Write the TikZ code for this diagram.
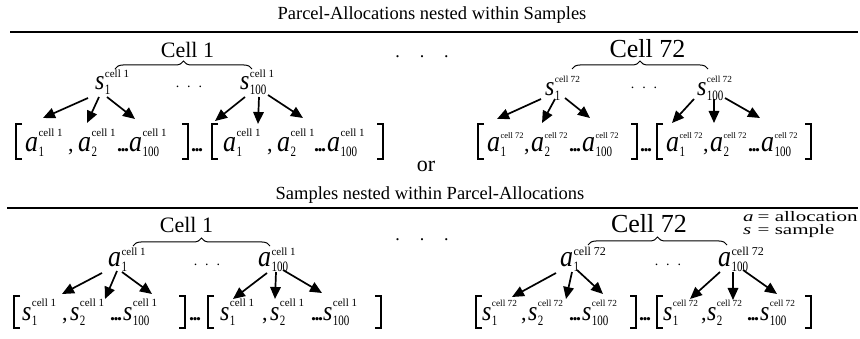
\documentclass[tikz,border=0pt]{standalone}
\usepackage{fontspec}
\setmainfont{Liberation Serif}
\usepackage{graphicx}
\usetikzlibrary{arrows.meta,decorations.pathreplacing}

\newcommand{\Lt}[1]{\scalebox{1}[1.15]{\itshape #1}}
\newcommand{\Sb}[1]{\scalebox{1}[1.3]{#1}}
\newcommand{\BD}{.\kern-1.5pt.\kern-1.5pt.}

\tikzset{
 letA/.style={anchor=base west, inner sep=0pt, font=\fontsize{26}{26}\selectfont},
 letS/.style={anchor=base west, inner sep=0pt, font=\fontsize{24}{24}\selectfont},
 subtxt/.style={anchor=base west, inner sep=0pt, font=\fontsize{11}{11}\selectfont},
 supA/.style={anchor=base west, inner sep=0pt, font=\fontsize{11}{11}\selectfont},
 supB/.style={anchor=base west, inner sep=0pt, font=\fontsize{8.5}{8.5}\selectfont},
 supC/.style={anchor=base west, inner sep=0pt, font=\fontsize{9.3}{9.3}\selectfont},
 supD/.style={anchor=base west, inner sep=0pt, font=\fontsize{12}{12}\selectfont},
 commatxt/.style={anchor=base west, inner sep=0pt, font=\fontsize{22}{22}\selectfont},
 bolddots/.style={anchor=base west, inner sep=0pt, font=\fontsize{20}{20}\selectfont\bfseries},
 ttl/.style={anchor=base, inner sep=0pt, font=\fontsize{18.5}{18.5}\selectfont},
 cellA/.style={anchor=base, inner sep=0pt, font=\fontsize{22}{22}\selectfont},
 cellB/.style={anchor=base, inner sep=0pt, font=\fontsize{26}{26}\selectfont},
 bigdots/.style={anchor=base, inner sep=0pt, font=\fontsize{18}{18}\selectfont},
 smdots/.style={anchor=base, inner sep=0pt, font=\fontsize{14}{14}\selectfont},
 legtxt/.style={anchor=base west, inner sep=0pt, font=\fontsize{14.5}{14.5}\selectfont},
 arr/.style={-{Triangle[length=12pt,width=10.5pt]}, line width=1.7pt},
 brk/.style={line width=1.1pt},
 brc/.style={decorate, decoration={brace, amplitude=8pt}, line width=1pt},
 rulel/.style={line width=1.2pt},
}

% element: name, x, y, letter style, letter, sub, sup style, sup text, sup shift
\newcommand{\El}[9]{%
 \node[#4] (#1) at (#2,#3) {\Lt{#5}};
 \node[subtxt] (#1-b) at ([yshift=-5pt]#1.base east) {\Sb{#6}};
 \node[#7] (#1-p) at ([yshift=#9pt]#1.base east) {#8};
}
\newcommand{\LB}[3]{\draw[brk] (#1+6,#2) -- (#1,#2) -- (#1,#3) -- (#1+6,#3);}
\newcommand{\RB}[3]{\draw[brk] (#1-6,#2) -- (#1,#2) -- (#1,#3) -- (#1-6,#3);}

\begin{document}
\begin{tikzpicture}[x=1pt,y=-1pt]
\useasboundingbox (0,0) rectangle (860,339);

% ================= TOP SECTION =================
\node[ttl] (title1) at (432,20) {Parcel-Allocations nested within Samples};
\coordinate (r1a) at (10,32); \coordinate (r1b) at (858,32);
\draw[rulel] (r1a) -- (r1b);

\node[cellA] (cellTL) at (187.5,58) {Cell 1};
\node[cellB] (cellTR) at (647.5,58) {Cell 72};
\coordinate (bTLa) at (115,69); \coordinate (bTLb) at (252,69);
\draw[brc] (bTLa) -- (bTLb);
\coordinate (bTRa) at (572,69); \coordinate (bTRb) at (708,69);
\draw[brc] (bTRa) -- (bTRb);
\node[bigdots] (dotsT) at (422,58) {.\hspace{20pt}.\hspace{20pt}.};
\node[smdots] (dTL) at (189,88) {.\hspace{8pt}.\hspace{8pt}.};
\node[smdots] (dTR) at (644,89) {.\hspace{8pt}.\hspace{8pt}.};

\El{sA1}{95}{90}{letS}{s}{1}{supA}{cell 1}{12}
\El{sA100}{240}{90}{letS}{s}{100}{supA}{cell 1}{12}
\El{sB1}{545}{96}{letS}{s}{1}{supC}{cell 72}{13}
\El{sB100}{697}{96}{letS}{s}{100}{supC}{cell 72}{13}

\coordinate (a1t) at (88,98);  \coordinate (a1h) at (43,118);  \draw[arr] (a1t) -- (a1h);
\coordinate (a2t) at (99,97);  \coordinate (a2h) at (87,123);  \draw[arr] (a2t) -- (a2h);
\coordinate (a3t) at (107,97); \coordinate (a3h) at (135,119); \draw[arr] (a3t) -- (a3h);
\coordinate (a4t) at (245,97); \coordinate (a4h) at (215,121); \draw[arr] (a4t) -- (a4h);
\coordinate (a5t) at (259,97); \coordinate (a5h) at (258,124); \draw[arr] (a5t) -- (a5h);
\coordinate (a6t) at (268,95); \coordinate (a6h) at (303,118); \draw[arr] (a6t) -- (a6h);
\coordinate (a7t) at (541,99); \coordinate (a7h) at (497,119); \draw[arr] (a7t) -- (a7h);
\coordinate (a8t) at (555,99); \coordinate (a8h) at (542,123); \draw[arr] (a8t) -- (a8h);
\coordinate (a9t) at (565,98); \coordinate (a9h) at (590,118); \draw[arr] (a9t) -- (a9h);
\coordinate (a10t) at (694,99); \coordinate (a10h) at (672,123); \draw[arr] (a10t) -- (a10h);
\coordinate (a11t) at (714,99); \coordinate (a11h) at (714,123); \draw[arr] (a11t) -- (a11h);
\coordinate (a12t) at (725,98); \coordinate (a12h) at (760,118); \draw[arr] (a12t) -- (a12h);

% TL row
\LB{16}{124}{159}
\El{pA1}{25}{152}{letA}{a}{1}{supA}{cell 1}{15}
\node[commatxt] (cA1) at (68,152) {,};
\El{pA2}{78}{152}{letA}{a}{2}{supA}{cell 1}{15}
\node[bolddots] (eA1) at (117,152) {\BD};
\El{pA3}{129}{152}{letA}{a}{100}{supA}{cell 1}{15}
\RB{188}{124}{159}
\node[bolddots] (mA) at (191,152) {\BD};
\LB{212}{124}{159}
\El{pA4}{223}{152}{letA}{a}{1}{supA}{cell 1}{15}
\node[commatxt] (cA2) at (267,152) {,};
\El{pA5}{277}{152}{letA}{a}{2}{supA}{cell 1}{15}
\node[bolddots] (eA2) at (314,152) {\BD};
\El{pA6}{327}{152}{letA}{a}{100}{supA}{cell 1}{15}
\RB{383}{124}{159}

% TR row
\LB{478}{124}{159}
\El{pB1}{487}{152}{letA}{a}{1}{supB}{cell 72}{13}
\node[commatxt] (cB1) at (524,152) {,};
\El{pB2}{531}{152}{letA}{a}{2}{supB}{cell 72}{13}
\node[bolddots] (eB1) at (569,152) {\BD};
\El{pB3}{582}{152}{letA}{a}{100}{supB}{cell 72}{13}
\RB{637}{124}{159}
\node[bolddots] (mB) at (640,152) {\BD};
\LB{657}{124}{159}
\El{pB4}{666}{152}{letA}{a}{1}{supB}{cell 72}{13}
\node[commatxt] (cB2) at (703,152) {,};
\El{pB5}{710}{152}{letA}{a}{2}{supB}{cell 72}{13}
\node[bolddots] (eB2) at (748,152) {\BD};
\El{pB6}{761}{152}{letA}{a}{100}{supB}{cell 72}{13}
\RB{811}{124}{159}

\node[anchor=base, inner sep=0pt, font=\fontsize{22}{22}\selectfont] (or) at (426,172) {or};

% ================= BOTTOM SECTION =================
\node[ttl] (title2) at (430,200) {Samples nested within Parcel-Allocations};
\coordinate (r2a) at (7,208); \coordinate (r2b) at (858,208);
\draw[rulel] (r2a) -- (r2b);

\node[cellA] (cellBL) at (186.5,233) {Cell 1};
\node[cellB] (cellBR) at (649,233) {Cell 72};
\coordinate (bBLa) at (133,246); \coordinate (bBLb) at (270,246);
\draw[brc] (bBLa) -- (bBLb);
\coordinate (bBRa) at (588,245); \coordinate (bBRb) at (727,245);
\draw[brc] (bBRa) -- (bBRb);
\node[bigdots] (dotsB) at (422,241) {.\hspace{20pt}.\hspace{20pt}.};
\node[smdots] (dBL) at (207,266) {.\hspace{8pt}.\hspace{8pt}.};
\node[smdots] (dBR) at (668,266) {.\hspace{8pt}.\hspace{8pt}.};

\node[legtxt] (legA) at (743,222) {\raisebox{0pt}[8pt][0pt]{\scalebox{1.45}[1]{\makebox[10pt][l]{\itshape a}= allocation}}};
\node[legtxt] (legS) at (743,235) {\raisebox{0pt}[8pt][0pt]{\scalebox{1.45}[1]{\makebox[10pt][l]{\itshape s}= sample}}};

\El{aC1}{108}{267}{letA}{a}{1}{supA}{cell 1}{11}
\El{aC100}{258}{267}{letA}{a}{100}{supA}{cell 1}{11}
\El{aD1}{560}{267}{letA}{a}{1}{supD}{cell 72}{11}
\El{aD100}{718}{267}{letA}{a}{100}{supD}{cell 72}{11}

\coordinate (b1t) at (102,273); \coordinate (b1h) at (62,294);  \draw[arr] (b1t) -- (b1h);
\coordinate (b2t) at (117,271); \coordinate (b2h) at (105,299); \draw[arr] (b2t) -- (b2h);
\coordinate (b3t) at (122,272); \coordinate (b3h) at (152,294); \draw[arr] (b3t) -- (b3h);
\coordinate (b4t) at (267,273); \coordinate (b4h) at (233,299); \draw[arr] (b4t) -- (b4h);
\coordinate (b5t) at (276,272); \coordinate (b5h) at (275,299); \draw[arr] (b5t) -- (b5h);
\coordinate (b6t) at (283,270); \coordinate (b6h) at (322,293); \draw[arr] (b6t) -- (b6h);
\coordinate (b7t) at (556,273); \coordinate (b7h) at (512,297); \draw[arr] (b7t) -- (b7h);
\coordinate (b8t) at (572,272); \coordinate (b8h) at (566,299); \draw[arr] (b8t) -- (b8h);
\coordinate (b9t) at (577,270); \coordinate (b9h) at (603,294); \draw[arr] (b9t) -- (b9h);
\coordinate (b10t) at (720,272); \coordinate (b10h) at (690,299); \draw[arr] (b10t) -- (b10h);
\coordinate (b11t) at (733,272); \coordinate (b11h) at (733,300); \draw[arr] (b11t) -- (b11h);
\coordinate (b12t) at (743,270); \coordinate (b12h) at (777,294); \draw[arr] (b12t) -- (b12h);

% BL row
\LB{14}{296}{328}
\El{qA1}{22}{320}{letS}{s}{1}{supA}{cell 1}{14}
\node[commatxt] (cC1) at (62,320) {,};
\El{qA2}{70}{320}{letS}{s}{2}{supA}{cell 1}{14}
\node[bolddots] (eC1) at (110,320) {\BD};
\El{qA3}{123}{320}{letS}{s}{100}{supA}{cell 1}{14}
\RB{185}{296}{328}
\node[bolddots] (mC) at (189,320) {\BD};
\LB{208}{296}{328}
\El{qA4}{220}{320}{letS}{s}{1}{supA}{cell 1}{14}
\node[commatxt] (cC2) at (262,320) {,};
\El{qA5}{270}{320}{letS}{s}{2}{supA}{cell 1}{14}
\node[bolddots] (eC2) at (311,320) {\BD};
\El{qA6}{323}{320}{letS}{s}{100}{supA}{cell 1}{14}
\RB{381}{296}{328}

% BR row
\LB{476}{296}{328}
\El{qB1}{482}{320}{letS}{s}{1}{supC}{cell 72}{14}
\node[commatxt] (cD1) at (521,320) {,};
\El{qB2}{528}{320}{letS}{s}{2}{supC}{cell 72}{14}
\node[bolddots] (eD1) at (569,320) {\BD};
\El{qB3}{582}{320}{letS}{s}{100}{supC}{cell 72}{14}
\RB{636}{296}{328}
\node[bolddots] (mD) at (639,320) {\BD};
\LB{657}{296}{328}
\El{qB4}{663}{320}{letS}{s}{1}{supC}{cell 72}{14}
\node[commatxt] (cD2) at (701,320) {,};
\El{qB5}{707}{320}{letS}{s}{2}{supC}{cell 72}{14}
\node[bolddots] (eD2) at (747,320) {\BD};
\El{qB6}{760}{320}{letS}{s}{100}{supC}{cell 72}{14}
\RB{811}{296}{328}

\end{tikzpicture}
\end{document}
